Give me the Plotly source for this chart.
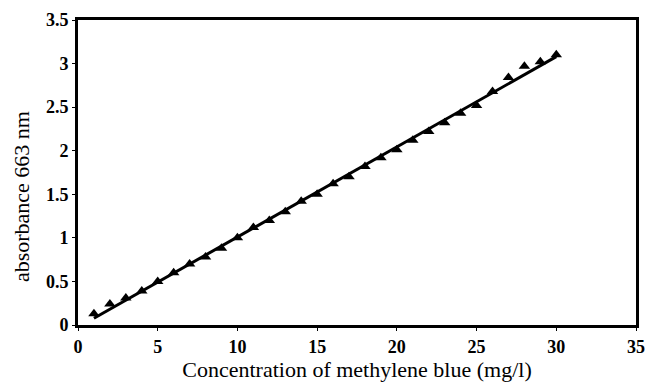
import plotly.graph_objects as go
import numpy as np

conc = [1, 2, 3, 4, 5, 6, 7, 8, 9, 10, 11, 12, 13, 14, 15,
        16, 17, 18, 19, 20, 21, 22, 23, 24, 25, 26, 27, 28, 29, 30]
absorb = [0.13, 0.24, 0.31, 0.39, 0.50, 0.60, 0.70, 0.78, 0.88, 1.00,
          1.12, 1.20, 1.30, 1.42, 1.50, 1.62, 1.70, 1.82, 1.92, 2.01,
          2.12, 2.22, 2.32, 2.43, 2.52, 2.68, 2.84, 2.97, 3.02, 3.10]
x_ticks = [0, 5, 10, 15, 20, 25, 30, 35]
y_ticks = [0, 0.5, 1, 1.5, 2, 2.5, 3, 3.5]
y_tick_text = ["0", "0.5", "1", "1.5", "2", "2.5", "3", "3.5"]
x_title = "Concentration of methylene blue (mg/l)"
y_title = "absorbance 663 nm"

slope, intercept = np.polyfit(conc, absorb, 1)
fit_x = [conc[0], conc[-1]]
fit_y = [slope * v + intercept for v in fit_x]

font = "Liberation Serif, Times New Roman, serif"

fig = go.Figure()
fig.add_trace(go.Scatter(x=fit_x, y=fit_y, mode="lines",
                         line=dict(color="black", width=3), showlegend=False))
fig.add_trace(go.Scatter(x=conc, y=absorb, mode="markers",
                         marker=dict(symbol="triangle-up", size=10, color="black"),
                         showlegend=False))

fig.update_layout(
    width=653, height=383,
    margin=dict(l=78, r=8, t=20, b=58),
    paper_bgcolor="white", plot_bgcolor="white",
    font=dict(family=font, color="black", size=18),
    xaxis=dict(range=[0, 35], tickvals=x_ticks, showgrid=False, zeroline=False,
               showline=True, linecolor="black", linewidth=3, mirror=True,
               ticks="outside", ticklen=3, tickwidth=1, tickcolor="black",
               tickfont=dict(size=18, family=font, weight="bold", color="black"),
               title=dict(text=x_title,
                          font=dict(size=22, family=font, color="black"), standoff=0)),
    yaxis=dict(range=[0, 3.5], tickvals=y_ticks, ticktext=y_tick_text,
               showgrid=False, zeroline=False,
               showline=True, linecolor="black", linewidth=3, mirror=True,
               ticks="outside", ticklen=3, tickwidth=1, tickcolor="black",
               tickfont=dict(size=18, family=font, weight="bold", color="black")),
    annotations=[dict(text=y_title, textangle=-90, showarrow=False,
                      xref="paper", yref="paper", x=-0.1, y=0.42,
                      xanchor="center", yanchor="middle",
                      font=dict(size=22, family=font, color="black"))],
)

fig.write_html("out.html")
